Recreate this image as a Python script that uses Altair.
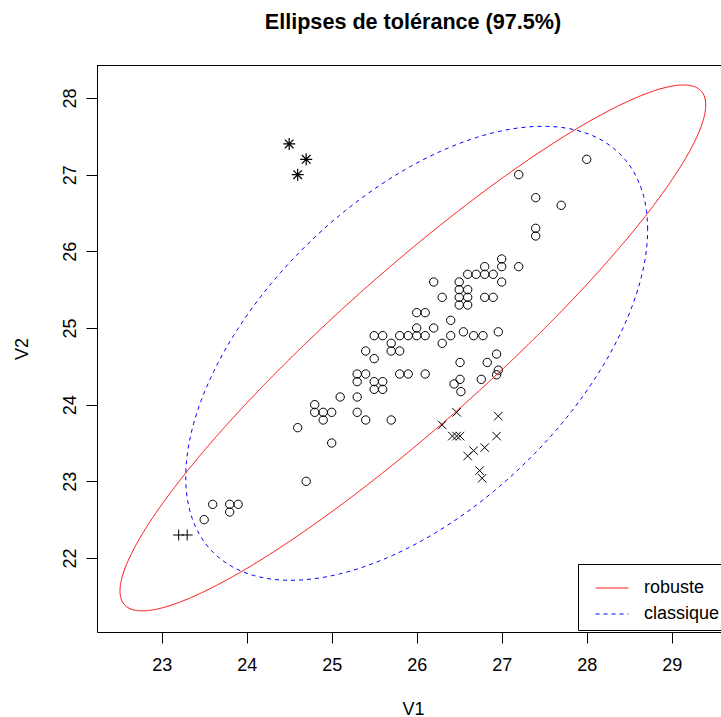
import altair as alt
import numpy as np
import pandas as pd

# ---- data ----
circ_v1 = [27.0, 27.2, 27.0, 26.8, 26.8, 26.7, 26.6, 26.9, 27.0, 26.2,
           26.5, 26.5, 26.6, 26.5, 26.6, 26.5, 26.6, 26.3, 26.8, 26.9,
           26.0, 26.1, 26.4, 26.2, 26.0, 26.0, 26.1, 25.9, 25.8, 25.5,
           25.6, 25.7, 25.7, 25.8, 25.4, 25.5, 26.3, 26.4, 26.55, 26.67,
           26.78, 26.96, 26.51, 26.94, 26.83, 26.96, 26.94, 25.3, 25.4, 25.3,
           25.5, 25.6, 25.5, 25.6, 25.8, 25.9, 26.1, 26.51, 26.44, 26.76,
           26.52, 25.1, 25.3, 24.8, 24.8, 24.9, 25.0, 24.9, 25.3, 25.4,
           25.7, 24.6, 25.0, 24.7, 23.6, 23.8, 23.9, 23.8, 23.5, 28.0,
           27.2, 27.4, 27.7, 27.4, 27.4]
circ_v2 = [25.9, 25.8, 25.8, 25.8, 25.7, 25.7, 25.7, 25.7, 25.6, 25.6,
           25.6, 25.5, 25.5, 25.4, 25.4, 25.3, 25.3, 25.4, 25.4, 25.4,
           25.2, 25.2, 25.1, 25.0, 25.0, 24.9, 24.9, 24.9, 24.9, 24.9,
           24.9, 24.8, 24.7, 24.7, 24.7, 24.6, 24.8, 24.9, 24.95, 24.9,
           24.9, 24.95, 24.55, 24.66, 24.55, 24.45, 24.39, 24.4, 24.4, 24.3,
           24.3, 24.3, 24.2, 24.2, 24.4, 24.4, 24.4, 24.33, 24.27, 24.33,
           24.17, 24.1, 24.1, 24.0, 23.9, 23.9, 23.9, 23.8, 23.9, 23.8,
           23.8, 23.7, 23.5, 23.0, 22.7, 22.7, 22.7, 22.6, 22.5, 27.2,
           27.0, 26.7, 26.6, 26.3, 26.2]

cross_v1 = [26.47, 26.30, 26.42, 26.47, 26.51, 26.96, 26.94, 26.80, 26.67, 26.60, 26.74, 26.77]
cross_v2 = [23.90, 23.735, 23.59, 23.59, 23.59, 23.85, 23.59, 23.44, 23.40, 23.33, 23.14, 23.04]

plus_v1 = [23.2, 23.3]
plus_v2 = [22.3, 22.3]

star_v1 = [24.5, 24.7, 24.6]
star_v2 = [27.4, 27.2, 27.0]

# tolerance ellipses: centre, covariance, chi2(0.975, 2)
rob_center = [25.955, 24.74]
rob_cov = [[1.609, 1.48], [1.48, 1.594]]
cla_center = [26.0, 24.67]
cla_cov = [[1.0006, 0.595], [0.595, 1.188]]
chi2_975 = 7.378

x_ticks = [23, 24, 25, 26, 27, 28, 29]
y_ticks = [22, 23, 24, 25, 26, 27, 28]
legend_labels = ["robuste", "classique"]

# ---- tables ----
circ_df = pd.DataFrame({"V1": circ_v1, "V2": circ_v2})
cross_df = pd.DataFrame({"V1": cross_v1, "V2": cross_v2})
plus_df = pd.DataFrame({"V1": plus_v1, "V2": plus_v2})
star_df = pd.DataFrame({"V1": star_v1, "V2": star_v2})


def ellipse(center, cov, name, n=240):
    L = np.linalg.cholesky(np.array(cov) * chi2_975)
    t = np.linspace(0, 2 * np.pi, n + 1)
    u = np.vstack([np.cos(t), np.sin(t)])
    e = (L @ u).T + np.array(center)
    return pd.DataFrame({"V1": e[:, 0], "V2": e[:, 1], "i": np.arange(n + 1), "type": name})


ell = pd.concat([ellipse(rob_center, rob_cov, "robuste"),
                 ellipse(cla_center, cla_cov, "classique")], ignore_index=True)

W, H = 624, 567
FONT = "Liberation Sans"

xscale = alt.Scale(domain=[22.239, 29.58], nice=False, zero=False)
yscale = alt.Scale(domain=[21.035, 28.43], nice=False, zero=False)

xaxis = alt.Axis(values=x_ticks, title="V1", grid=False, format="d",
                 domainColor="black", domainWidth=1, tickColor="black", tickSize=11,
                 labelFont=FONT, labelFontSize=18, labelColor="black", labelPadding=13,
                 labelBaseline="top",
                 titleFont=FONT, titleFontSize=18, titleFontWeight="normal", titleColor="black",
                 titleBaseline="alphabetic", titleAlign="center", titleX=316, titleY=82)
yaxis = alt.Axis(values=y_ticks, title="V2", grid=False, format="d",
                 domainColor="black", domainWidth=1, tickColor="black", tickSize=11,
                 labelFont=FONT, labelFontSize=18, labelColor="black", labelPadding=11,
                 labelAngle=270, labelAlign="center", labelBaseline="alphabetic",
                 titleFont=FONT, titleFontSize=18, titleFontWeight="normal", titleColor="black",
                 titleAngle=270, titleAlign="center", titleBaseline="alphabetic",
                 titleX=-70, titleY=283.5)

cross_path = "M-1,-1L1,1M-1,1L1,-1"
plus_path = "M-1,0L1,0M0,-1L0,1"
star_path = "M-1,0L1,0M0,-1L0,1M-0.72,-0.72L0.72,0.72M-0.72,0.72L0.72,-0.72"


def pts_layer(df, shape, size, sw=1.0, axes=False):
    if axes:
        enc_x = alt.X("V1:Q", scale=xscale, axis=xaxis)
        enc_y = alt.Y("V2:Q", scale=yscale, axis=yaxis)
    else:
        enc_x = alt.X("V1:Q", scale=xscale)
        enc_y = alt.Y("V2:Q", scale=yscale)
    return alt.Chart(df).mark_point(shape=shape, size=size, filled=False, opacity=1,
                                    color="black", strokeWidth=sw).encode(x=enc_x, y=enc_y)


circles = pts_layer(circ_df, "circle", 70, axes=True)
crosses = pts_layer(cross_df, cross_path, 72)
pluses = pts_layer(plus_df, plus_path, 121)
stars = pts_layer(star_df, star_path, 144, 1.2)

leg = alt.Legend(orient="none", legendX=481, legendY=499, title=None,
                 strokeColor="black", fillColor="white", padding=7, cornerRadius=0,
                 symbolType="stroke", symbolSize=1089, symbolStrokeWidth=1, symbolOffset=10,
                 labelFont=FONT, labelFontSize=18, labelColor="black", labelOffset=15,
                 rowPadding=-12)

lines = alt.Chart(ell).mark_line(strokeWidth=1, clip=True).encode(
    x=alt.X("V1:Q", scale=xscale),
    y=alt.Y("V2:Q", scale=yscale),
    order="i:Q",
    color=alt.Color("type:N", scale=alt.Scale(domain=legend_labels, range=["#FF0000", "#0000FF"]),
                    legend=leg),
    strokeDash=alt.StrokeDash("type:N", scale=alt.Scale(domain=legend_labels, range=[[1, 0], [4, 4]]),
                              legend=leg),
)

top_rule = alt.Chart(pd.DataFrame({"k": [0]})).mark_rule(color="black", strokeWidth=1).encode(
    x=alt.value(0), x2=alt.value(W), y=alt.value(0.5))

chart = alt.layer(circles, lines, crosses, pluses, stars, top_rule).properties(
    width=W, height=H,
    title=alt.TitleParams("Ellipses de tolérance (97.5%)", font=FONT, fontSize=21.6,
                          fontWeight="bold", color="black", anchor="middle", dx=4,
                          baseline="alphabetic", offset=14),
    padding={"left": 97, "top": 65, "right": 0, "bottom": 85},
    autosize=alt.AutoSizeParams(type="none"),
).configure_view(stroke=None).configure(background="white")

chart.save("out.html", embed_options={"renderer": "svg", "actions": False})
